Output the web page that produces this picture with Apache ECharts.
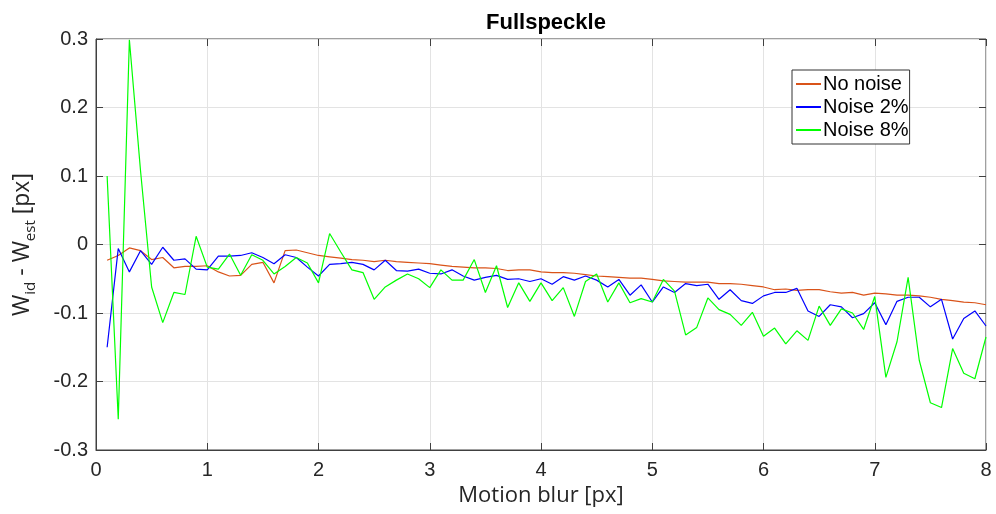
<!DOCTYPE html>
<html>
<head>
<meta charset="utf-8">
<script src="https://cdn.jsdelivr.net/npm/echarts@6/dist/echarts.min.js"></script>
<style>html,body{margin:0;padding:0;background:#fff}#c{width:996px;height:514px}</style>
</head>
<body>
<div id="c"></div>
<script>
const motionBlur = [0.1,0.2,0.3,0.4,0.5,0.6,0.7,0.8,0.9,1.0,1.1,1.2,1.3,1.4,1.5,1.6,1.7,1.8,1.9,2.0,
  2.1,2.2,2.3,2.4,2.5,2.6,2.7,2.8,2.9,3.0,3.1,3.2,3.3,3.4,3.5,3.6,3.7,3.8,3.9,4.0,
  4.1,4.2,4.3,4.4,4.5,4.6,4.7,4.8,4.9,5.0,5.1,5.2,5.3,5.4,5.5,5.6,5.7,5.8,5.9,6.0,
  6.1,6.2,6.3,6.4,6.5,6.6,6.7,6.8,6.9,7.0,7.1,7.2,7.3,7.4,7.5,7.6,7.7,7.8,7.9,8.0];
const noNoise = [-0.023,-0.016,-0.005,-0.009,-0.022,-0.019,-0.034,-0.032,-0.032,-0.031,
  -0.040,-0.046,-0.045,-0.029,-0.026,-0.056,-0.009,-0.008,-0.012,-0.016,
  -0.018,-0.020,-0.022,-0.023,-0.025,-0.023,-0.025,-0.026,-0.027,-0.028,
  -0.030,-0.032,-0.033,-0.034,-0.034,-0.035,-0.038,-0.037,-0.037,-0.040,
  -0.041,-0.041,-0.042,-0.044,-0.046,-0.047,-0.048,-0.049,-0.049,-0.051,
  -0.053,-0.054,-0.055,-0.055,-0.055,-0.057,-0.057,-0.058,-0.060,-0.062,
  -0.066,-0.065,-0.067,-0.066,-0.066,-0.069,-0.071,-0.070,-0.074,-0.071,
  -0.072,-0.074,-0.074,-0.075,-0.077,-0.080,-0.082,-0.084,-0.085,-0.088];
const noise2 = [-0.150,-0.006,-0.040,-0.009,-0.029,-0.004,-0.023,-0.021,-0.036,-0.037,
  -0.017,-0.017,-0.016,-0.012,-0.019,-0.028,-0.015,-0.019,-0.033,-0.046,
  -0.029,-0.028,-0.026,-0.029,-0.037,-0.023,-0.038,-0.039,-0.036,-0.042,
  -0.043,-0.037,-0.046,-0.052,-0.048,-0.045,-0.051,-0.050,-0.054,-0.050,
  -0.058,-0.047,-0.052,-0.046,-0.052,-0.062,-0.051,-0.074,-0.059,-0.084,
  -0.062,-0.070,-0.057,-0.060,-0.058,-0.080,-0.066,-0.082,-0.086,-0.075,
  -0.070,-0.070,-0.064,-0.097,-0.105,-0.088,-0.091,-0.107,-0.101,-0.085,
  -0.117,-0.083,-0.077,-0.077,-0.091,-0.080,-0.138,-0.108,-0.097,-0.119];
const noise8 = [0.100,-0.255,0.299,0.108,-0.062,-0.114,-0.070,-0.073,0.012,-0.033,
  -0.036,-0.014,-0.045,-0.015,-0.023,-0.043,-0.032,-0.019,-0.027,-0.056,
  0.016,-0.011,-0.037,-0.041,-0.080,-0.062,-0.052,-0.043,-0.050,-0.063,
  -0.037,-0.052,-0.052,-0.022,-0.070,-0.031,-0.092,-0.056,-0.083,-0.056,
  -0.082,-0.063,-0.105,-0.054,-0.043,-0.084,-0.056,-0.085,-0.079,-0.084,
  -0.051,-0.068,-0.132,-0.121,-0.078,-0.095,-0.102,-0.118,-0.099,-0.134,
  -0.122,-0.145,-0.126,-0.140,-0.090,-0.118,-0.094,-0.100,-0.124,-0.076,
  -0.194,-0.142,-0.048,-0.169,-0.231,-0.238,-0.152,-0.188,-0.196,-0.135];
const seriesNames = ['No noise','Noise 2%','Noise 8%'];
const seriesColors = ['#D95319','#0000FF','#00FF00'];
const titleText = 'Fullspeckle';
const xTitle = 'Motion blur [px]';

const pair = arr => motionBlur.map((x,i)=>[x,arr[i]]);
const axisCol = '#404040';
const tickFont = 'Liberation Sans, Arial, sans-serif';
const chart = echarts.init(document.getElementById('c'));
const hiddenAxis = (pos, isX) => ({
  type:'value', position:pos, min: isX?0:-0.3, max: isX?8:0.3, interval: isX?1:0.1,
  axisLine:{show:false, onZero:false}, axisTick:{show:true, inside:true, length:7, lineStyle:{color:axisCol}},
  axisLabel:{show:false}, splitLine:{show:false}
});
chart.setOption({
  animation:false,
  title:{text:titleText, left:541, textAlign:'center', top:7,
    textStyle:{fontFamily:tickFont, fontSize:22, fontWeight:'bold', color:'#000'}},
  grid:{left:96, top:39, width:890, height:411, show:true, borderColor:axisCol, borderWidth:1, backgroundColor:'#fff'},
  legend:{
    data:seriesNames, orient:'vertical', left:792, top:70, icon:'inherit',
    backgroundColor:'#fff', borderColor:'#333', borderWidth:1,
    padding:[4,1,4,3], itemGap:3, itemWidth:25, itemHeight:14,
    itemStyle:{opacity:0},
    textStyle:{fontFamily:tickFont, fontSize:20, color:'#000', padding:[0,0,0,-3]}
  },
  xAxis:[{
    type:'value', min:0, max:8, interval:1,
    name:xTitle, nameLocation:'middle', nameGap:22,
    nameTextStyle:{fontFamily:'Open Sans', fontSize:22, color:'#262626'},
    axisLine:{show:true, onZero:false, lineStyle:{color:axisCol}},
    axisTick:{show:true, inside:true, length:7, lineStyle:{color:axisCol}},
    axisLabel:{fontFamily:tickFont, fontSize:20, color:'#262626', margin:10},
    splitLine:{show:true, lineStyle:{color:'#e3e3e3', width:1}}
  }, hiddenAxis('top', true)],
  yAxis:[{
    type:'value', min:-0.3, max:0.3, interval:0.1,
    name:'{m|W}{s|id}{m| - W}{s|est}{m| [px]}', nameLocation:'middle', nameGap:58, nameRotate:90,
    nameTextStyle:{
      rich:{
        m:{fontFamily:'Open Sans', fontSize:23, color:'#262626', lineHeight:32, verticalAlign:'middle'},
        s:{fontFamily:'Open Sans', fontSize:15, color:'#262626', lineHeight:16, verticalAlign:'bottom'}
      }
    },
    axisLine:{show:true, onZero:false, lineStyle:{color:axisCol}},
    axisTick:{show:true, inside:true, length:7, lineStyle:{color:axisCol}},
    axisLabel:{fontFamily:tickFont, fontSize:20, color:'#262626', margin:8,
      formatter:v=> Math.abs(v)<1e-9 ? '0' : v.toFixed(1)},
    splitLine:{show:true, lineStyle:{color:'#e3e3e3', width:1}}
  }, hiddenAxis('right', false)],
  series:[noNoise, noise2, noise8].map((d,i)=>({
    name:seriesNames[i], type:'line', data:pair(d), symbol:'none',
    xAxisIndex:0, yAxisIndex:0, clip:true,
    lineStyle:{color:seriesColors[i], width:1.2}, itemStyle:{color:seriesColors[i]}
  }))
});
</script>
</body>
</html>
